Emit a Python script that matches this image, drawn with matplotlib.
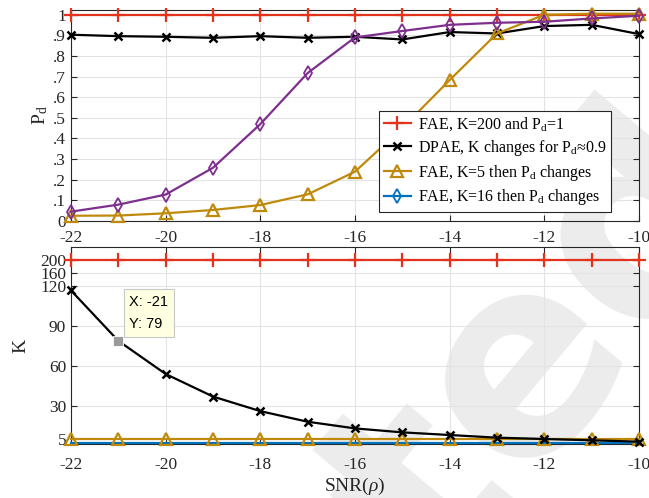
import numpy as np
import matplotlib
matplotlib.use("Agg")
import matplotlib.pyplot as plt
from matplotlib.lines import Line2D

plt.rcParams['font.family'] = ['Liberation Serif', 'DejaVu Serif']
plt.rcParams['mathtext.fontset'] = 'custom'
plt.rcParams['mathtext.rm'] = 'Liberation Serif'
plt.rcParams['mathtext.it'] = 'Liberation Serif:italic'
plt.rcParams['axes.unicode_minus'] = False

# data
snr = np.arange(-22, -9)
pd_fae200 = [1.0] * 13
pd_dpae = [0.903, 0.896, 0.893, 0.888, 0.896, 0.888, 0.893, 0.880, 0.916, 0.909, 0.945, 0.951, 0.906]
pd_fae5 = [0.024, 0.025, 0.036, 0.052, 0.076, 0.128, 0.238, 0.45, 0.683, 0.909, 1.0, 1.005, 1.005]
pd_fae16 = [0.044, 0.078, 0.127, 0.257, 0.469, 0.717, 0.890, 0.921, 0.951, 0.961, 0.966, 0.982, 0.995]

k_fae200 = [200] * 13
k_dpae = [117, 79, 54, 37, 26, 18, 13, 10, 8, 6, 5, 4, 3]
k_fae5 = [5] * 13
k_fae16 = [2] * 13

pd_ticks = np.round(np.arange(0, 1.01, 0.1), 1)
pd_ticklabels = ['0', '.1', '.2', '.3', '.4', '.5', '.6', '.7', '.8', '.9', '1']
k_ticks = [5, 30, 60, 90, 120, 160, 200]
x_ticks = [-22, -20, -18, -16, -14, -12, -10]

red = '#e2341d'
gold = '#bf8a0c'
purple = '#7e2f8e'
blue = '#0072bd'
axcol = '#262626'


def fwd(y):
    y = np.asarray(y, dtype=float)
    return np.where(y <= 120, y, 120 + (y - 120) / 4)


def inv(t):
    t = np.asarray(t, dtype=float)
    return np.where(t <= 120, t, 120 + (t - 120) * 4)


fig = plt.figure(figsize=(6.49, 4.98), dpi=100)
fig.patch.set_facecolor('white')

# watermark, only its tail shows
fig.text(1.095, 0.69, 'Accepted', fontsize=195, rotation=50, color='#ececec',
         ha='right', va='center', rotation_mode='anchor', family='DejaVu Sans',
         weight='bold', zorder=-5)

ax1 = fig.add_axes([71 / 649, 1 - 220.7 / 498, 568 / 649, 210.7 / 498])
ax2 = fig.add_axes([71 / 649, 1 - 444.3 / 498, 568 / 649, 197.6 / 498])

for ax in (ax1, ax2):
    ax.set_facecolor('none')
    ax.grid(True, color='#e3e3e3', linewidth=0.8)
    ax.set_axisbelow(True)
    ax.tick_params(direction='in', top=True, right=True, color=axcol,
                   labelcolor=axcol, labelsize=12.5, length=4, width=0.8)
    for s in ax.spines.values():
        s.set_color(axcol)
        s.set_linewidth(0.8)
    ax.set_xlim(-22, -10)
    ax.set_xticks(x_ticks)

# top: Pd
ax1.plot(snr, pd_fae200, color=red, lw=1.6, marker='+', ms=10, mew=1.6,
         label='FAE, K=200 and P$_\\mathrm{d}$=1', clip_on=False, zorder=5)
ax1.plot(snr, pd_dpae, color='black', lw=1.6, marker='x', ms=6, mew=1.8,
         label='DPAE, K changes for P$_\\mathrm{d}$≈0.9', clip_on=False, zorder=5)
ax1.plot(snr, pd_fae5, color=gold, lw=1.6, marker='^', ms=9, mew=1.6, mfc='none',
         label='FAE, K=5 then P$_\\mathrm{d}$ changes', clip_on=False, zorder=5)
ax1.plot(snr, pd_fae16, color=purple, lw=1.6, marker='d', ms=7, mew=1.3, mfc='none',
         clip_on=False, zorder=5)
ax1.set_ylim(0, 1.023)
ax1.set_yticks(pd_ticks)
ax1.set_yticklabels(pd_ticklabels)
ax1.set_ylabel('P$_\\mathrm{d}$', fontsize=14, color=axcol, labelpad=2)
ax1.tick_params(axis='x', pad=7)

handles, labels = ax1.get_legend_handles_labels()
handles.append(Line2D([], [], color=blue, lw=1.6, marker='d', ms=7, mew=1.3, mfc='none'))
labels.append('FAE, K=16 then P$_\\mathrm{d}$ changes')
leg = ax1.legend(handles, labels, loc='lower right', bbox_to_anchor=(0.951, 0.04),
                 fontsize=11.5, fancybox=False, framealpha=1, edgecolor=axcol,
                 borderpad=0.3, handlelength=1.65, handletextpad=0.45, labelspacing=0.3,
                 borderaxespad=0)
leg.get_frame().set_linewidth(0.8)
leg.set_zorder(10)

# bottom: K
ax2.set_yscale('function', functions=(fwd, inv))
ax2.plot(snr, k_fae200, color=red, lw=1.6, marker='+', ms=10, mew=1.6, clip_on=False, zorder=5)
ax2.plot(snr, k_fae16, color=blue, lw=1.6, clip_on=False, zorder=4)
ax2.plot(snr, k_fae5, color=gold, lw=1.6, marker='^', ms=9, mew=1.6, mfc='none',
         clip_on=False, zorder=5)
ax2.plot(snr, k_dpae, color='black', lw=1.6, marker='x', ms=6, mew=1.8, clip_on=False, zorder=6)
ax2.plot(snr[1], k_dpae[1], marker='s', ms=7, color='#9a9a9a', mec='white', mew=0.6,
         ls='none', zorder=8)
ax2.set_ylim(1, 240)
ax2.set_yticks(k_ticks)
ax2.set_yticklabels([str(t) for t in k_ticks])
ax2.yaxis.set_minor_locator(matplotlib.ticker.NullLocator())
ax2.set_ylabel('K', fontsize=14, color=axcol, labelpad=8)
ax2.set_xlabel('SNR($\\rho$)', fontsize=14, color=axcol, labelpad=2)
ax2.tick_params(axis='x', pad=9)

ax2.annotate('X: %d\nY: %d' % (snr[1], k_dpae[1]), xy=(snr[1], k_dpae[1]),
             xytext=(8, 7), textcoords='offset points', ha='left', va='bottom',
             fontsize=10.5, family='Liberation Sans', color='black', linespacing=1.75,
             bbox=dict(boxstyle='square,pad=0.38', fc='#ffffe1', ec='#c8c8c8', lw=0.8),
             zorder=9)

fig.savefig('out.png', dpi=100)
